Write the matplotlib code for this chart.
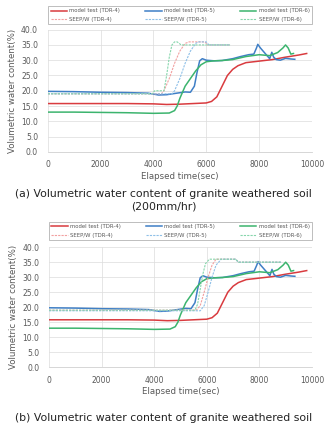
import matplotlib
matplotlib.use("Agg")
import matplotlib.pyplot as plt
from matplotlib.ticker import FormatStrFormatter

# ---------------- data ----------------
# model test (same measurements shown in both panels)
t_tdr4 = [0, 1000, 2000, 3000, 4000, 4500, 5000, 5500, 6000, 6200, 6400, 6600, 6800, 7000, 7200, 7500, 8000, 8500, 9000, 9500, 9800]
v_tdr4 = [15.8, 15.8, 15.8, 15.8, 15.7, 15.5, 15.6, 15.8, 16.0, 16.5, 18.0, 21.5, 25.0, 27.0, 28.2, 29.2, 29.7, 30.2, 31.0, 31.7, 32.2]

t_tdr5 = [0, 1000, 2000, 3000, 3800, 4200, 4500, 4800, 5200, 5400, 5550, 5650, 5750, 5850, 6000, 6300, 6600, 7000, 7300, 7600, 7800, 7900, 7950, 8050, 8150, 8300, 8400, 8480, 8550, 8650, 8800, 9000, 9200, 9350]
v_tdr5 = [19.8, 19.7, 19.5, 19.4, 19.2, 18.6, 18.7, 19.1, 19.6, 19.5, 21.5, 26.0, 29.8, 30.5, 30.0, 29.8, 29.9, 30.5, 31.2, 31.8, 32.0, 34.0, 35.2, 34.0, 33.0, 31.5, 30.5, 32.6, 31.0, 30.2, 30.0, 30.6, 30.4, 30.3]

t_tdr6 = [0, 1000, 2000, 3000, 4000, 4600, 4800, 4900, 5000, 5100, 5200, 5400, 5600, 5800, 6000, 6300, 6600, 7000, 7500, 8000, 8400, 8700, 8900, 9000, 9100, 9200, 9300]
v_tdr6 = [13.0, 13.0, 12.9, 12.8, 12.6, 12.7, 13.5, 15.0, 17.5, 19.5, 21.5, 24.0, 26.5, 28.5, 29.5, 29.8, 29.9, 30.2, 31.2, 31.8, 31.5, 32.5, 34.0, 35.0, 34.0, 32.0, 32.2]

# SEEP/W, panel (a)
ta_seep4 = [0, 4300, 4400, 4600, 4800, 5000, 5200, 5350, 5950, 6050, 6900]
va_seep4 = [19.0, 19.0, 20.0, 24.0, 29.0, 33.0, 35.5, 36.0, 36.0, 35.0, 35.0]
ta_seep5 = [0, 4700, 4800, 5000, 5200, 5400, 5600, 5700, 6000, 6100, 6900]
va_seep5 = [19.0, 19.0, 20.0, 24.0, 29.0, 33.0, 35.5, 36.0, 36.0, 35.0, 35.0]
ta_seep6 = [0, 3950, 4050, 4400, 4500, 4600, 4700, 4800, 4900, 5050, 6900]
va_seep6 = [19.0, 19.0, 20.0, 20.0, 25.0, 31.0, 35.0, 36.0, 36.0, 35.0, 35.0]

# SEEP/W, panel (b)
tb_seep4 = [0, 5600, 5750, 5900, 6050, 6200, 6350, 7100, 7200, 8850]
vb_seep4 = [19.0, 19.0, 20.5, 25.0, 30.0, 34.0, 36.0, 36.0, 35.0, 35.0]
tb_seep5 = [0, 5750, 5900, 6050, 6200, 6350, 6550, 7100, 7200, 8850]
vb_seep5 = [18.8, 18.8, 20.5, 25.0, 30.0, 34.0, 36.0, 36.0, 35.0, 35.0]
tb_seep6 = [0, 5550, 5650, 5750, 5850, 5950, 6100, 7100, 7200, 8850]
vb_seep6 = [19.0, 19.0, 21.0, 26.0, 31.0, 34.5, 36.0, 36.0, 35.0, 35.0]

labels = ["model test (TDR-4)", "model test (TDR-5)", "model test (TDR-6)",
          "SEEP/W (TDR-4)", "SEEP/W (TDR-5)", "SEEP/W (TDR-6)"]
xticks = [0, 2000, 4000, 6000, 8000, 10000]
yticks = [0, 5, 10, 15, 20, 25, 30, 35, 40]
captions = ["(a) Volumetric water content of granite weathered soil\n(200mm/hr)",
            "(b) Volumetric water content of granite weathered soil"]

# ---------------- style ----------------
c_red, c_blue, c_green = "#d93b3f", "#3f7fc6", "#3cb46e"
c_lred, c_lblue, c_lgreen = "#f2a0a0", "#8fc0e8", "#86d6ac"
txt_gray = "#595959"

plt.rcParams['font.family'] = ['DejaVu Sans']
fig = plt.figure(figsize=(3.27, 4.24), dpi=100)

axes_rects = [[0.146, 0.642, 0.808, 0.288], [0.150, 0.134, 0.804, 0.283]]
leg_rects = [(0.147, 0.943, 0.807, 0.049), (0.150, 0.434, 0.804, 0.043)]
cap_y = [0.528, 0.015]
seep_sets = [(ta_seep4, va_seep4, ta_seep5, va_seep5, ta_seep6, va_seep6),
             (tb_seep4, vb_seep4, tb_seep5, vb_seep5, tb_seep6, vb_seep6)]

for i in range(2):
    ax = fig.add_axes(axes_rects[i])
    s4t, s4v, s5t, s5v, s6t, s6v = seep_sets[i]
    h = []
    h += ax.plot(t_tdr4, v_tdr4, color=c_red, lw=1.1)
    h += ax.plot(t_tdr5, v_tdr5, color=c_blue, lw=1.1)
    h += ax.plot(t_tdr6, v_tdr6, color=c_green, lw=1.1)
    h += ax.plot(s4t, s4v, color=c_lred, lw=0.8, ls=(0, (2, 1)))
    h += ax.plot(s5t, s5v, color=c_lblue, lw=0.8, ls=(0, (2, 1)))
    h += ax.plot(s6t, s6v, color=c_lgreen, lw=0.8, ls=(0, (2, 1)))
    ax.set_xlim(0, 10000)
    ax.set_ylim(0, 40)
    ax.set_xticks(xticks)
    ax.set_yticks(yticks)
    ax.yaxis.set_major_formatter(FormatStrFormatter("%.1f"))
    ax.tick_params(length=0, labelsize=5.5, colors=txt_gray)
    ax.tick_params(axis="y", pad=7)
    ax.tick_params(axis="x", pad=6)
    ax.grid(True, color="#dcdcdc", lw=0.5)
    ax.set_axisbelow(True)
    for s in ["top", "right", "left"]:
        ax.spines[s].set_visible(False)
    ax.spines["bottom"].set_color("#d0d0d0")
    ax.spines["bottom"].set_linewidth(0.6)
    ax.set_xlabel("Elapsed time(sec)", fontsize=6.2, color=txt_gray, labelpad=2)
    ax.set_ylabel("Volumetric water content(%)", fontsize=6.2, color=txt_gray, labelpad=3)
    order = [0, 3, 1, 4, 2, 5]
    leg = fig.legend([h[k] for k in order], [labels[k] for k in order], ncol=3,
                     loc="lower left", bbox_to_anchor=leg_rects[i],
                     mode="expand", fontsize=3.9, frameon=True, fancybox=False,
                     handlelength=3.0, handletextpad=0.4, borderpad=0.45,
                     labelspacing=0.6, columnspacing=1.0, borderaxespad=0)
    leg.get_frame().set_edgecolor("#a0a0a0")
    leg.get_frame().set_linewidth(0.6)
    for t in leg.get_texts():
        t.set_color(txt_gray)
    fig.text(0.5, cap_y[i], captions[i], ha="center", va="center", fontsize=7.8,
             color="#222222", linespacing=1.3)

fig.savefig("out.png", dpi=100)
